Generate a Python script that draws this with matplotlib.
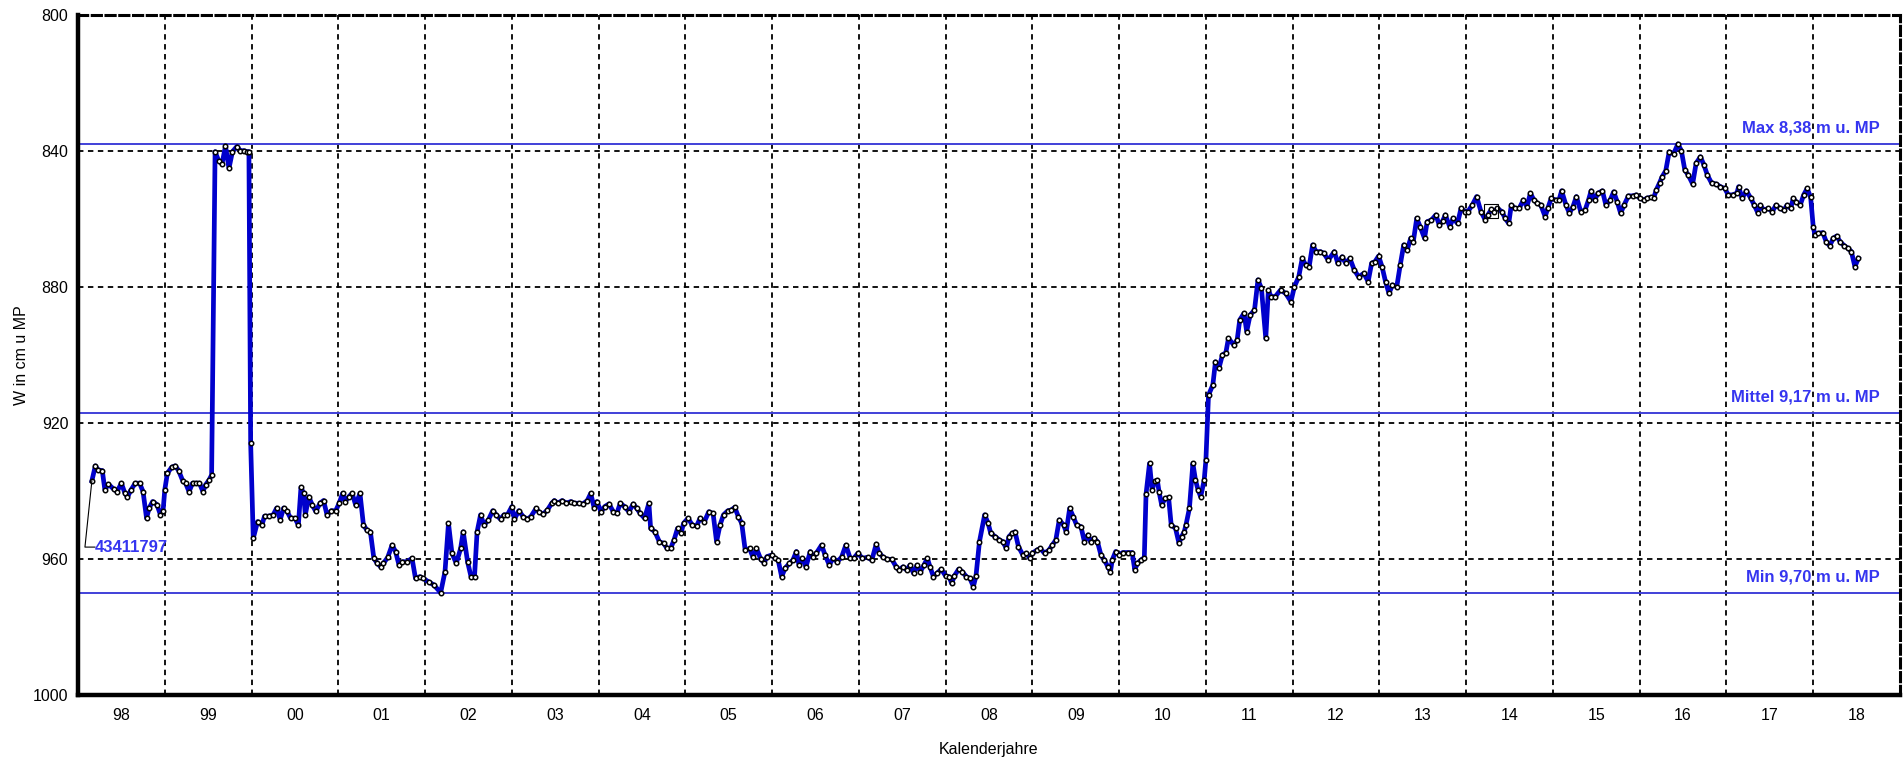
import numpy as np
import matplotlib.pyplot as plt

plt.rcParams['font.family'] = ['Liberation Sans', 'DejaVu Sans']

# Grundwasserstand, Messstelle 43411797 (cm unter Messpunkt)
years = [
    1998.16, 1998.20, 1998.23, 1998.28, 1998.31, 1998.35, 1998.41, 1998.45, 1998.50, 1998.54,
    1998.57, 1998.61, 1998.66, 1998.71, 1998.75, 1998.79, 1998.82, 1998.86, 1998.91, 1998.95,
    1998.98, 1999.00, 1999.03, 1999.08, 1999.12, 1999.16, 1999.21, 1999.24, 1999.28, 1999.32,
    1999.36, 1999.40, 1999.44, 1999.47, 1999.51, 1999.54, 1999.58, 1999.62, 1999.66, 1999.70,
    1999.74, 1999.78, 1999.83, 1999.87, 1999.91, 1999.95, 1999.97, 1999.99, 2000.02, 2000.07,
    2000.12, 2000.15, 2000.20, 2000.25, 2000.29, 2000.33, 2000.37, 2000.41, 2000.45, 2000.50,
    2000.54, 2000.57, 2000.60, 2000.62, 2000.66, 2000.70, 2000.74, 2000.79, 2000.83, 2000.87,
    2000.92, 2000.97, 2001.01, 2001.05, 2001.08, 2001.12, 2001.16, 2001.20, 2001.25, 2001.29,
    2001.33, 2001.37, 2001.41, 2001.45, 2001.49, 2001.52, 2001.57, 2001.62, 2001.66, 2001.70,
    2001.74, 2001.79, 2001.85, 2001.89, 2001.94, 2001.98, 2002.04, 2002.10, 2002.18, 2002.23,
    2002.27, 2002.31, 2002.36, 2002.41, 2002.44, 2002.49, 2002.53, 2002.57, 2002.60, 2002.64,
    2002.68, 2002.73, 2002.78, 2002.82, 2002.87, 2002.91, 2002.95, 2003.00, 2003.03, 2003.08,
    2003.13, 2003.18, 2003.22, 2003.28, 2003.31, 2003.36, 2003.41, 2003.46, 2003.49, 2003.53,
    2003.58, 2003.63, 2003.68, 2003.72, 2003.77, 2003.82, 2003.87, 2003.91, 2003.95, 2003.98,
    2004.03, 2004.07, 2004.12, 2004.17, 2004.21, 2004.25, 2004.30, 2004.35, 2004.40, 2004.44,
    2004.48, 2004.53, 2004.58, 2004.60, 2004.65, 2004.70, 2004.75, 2004.79, 2004.83, 2004.87,
    2004.91, 2004.95, 2004.98, 2005.03, 2005.08, 2005.13, 2005.17, 2005.22, 2005.27, 2005.32,
    2005.36, 2005.40, 2005.44, 2005.49, 2005.53, 2005.57, 2005.61, 2005.65, 2005.69, 2005.74,
    2005.78, 2005.82, 2005.87, 2005.91, 2005.94, 2006.00, 2006.03, 2006.07, 2006.11, 2006.15,
    2006.20, 2006.24, 2006.28, 2006.31, 2006.35, 2006.39, 2006.44, 2006.47, 2006.51, 2006.57,
    2006.61, 2006.66, 2006.70, 2006.75, 2006.80, 2006.85, 2006.90, 2006.94, 2006.99, 2007.04,
    2007.10, 2007.15, 2007.20, 2007.23, 2007.28, 2007.33, 2007.38, 2007.43, 2007.46, 2007.51,
    2007.55, 2007.59, 2007.63, 2007.67, 2007.71, 2007.75, 2007.79, 2007.82, 2007.86, 2007.90,
    2007.95, 2008.00, 2008.04, 2008.07, 2008.10, 2008.15, 2008.19, 2008.24, 2008.28, 2008.32,
    2008.35, 2008.39, 2008.45, 2008.49, 2008.52, 2008.57, 2008.62, 2008.66, 2008.70, 2008.73,
    2008.77, 2008.80, 2008.84, 2008.89, 2008.93, 2008.97, 2009.00, 2009.05, 2009.09, 2009.14,
    2009.19, 2009.23, 2009.27, 2009.31, 2009.36, 2009.39, 2009.43, 2009.47, 2009.51, 2009.56,
    2009.60, 2009.64, 2009.67, 2009.71, 2009.75, 2009.79, 2009.83, 2009.87, 2009.90, 2009.92,
    2009.96, 2010.00, 2010.04, 2010.10, 2010.15, 2010.18, 2010.21, 2010.25, 2010.29, 2010.31,
    2010.35, 2010.38, 2010.41, 2010.44, 2010.46, 2010.49, 2010.53, 2010.57, 2010.60, 2010.65,
    2010.69, 2010.72, 2010.75, 2010.77, 2010.81, 2010.85, 2010.88, 2010.91, 2010.94, 2010.98,
    2011.00, 2011.03, 2011.08, 2011.11, 2011.15, 2011.19, 2011.23, 2011.26, 2011.32, 2011.36,
    2011.39, 2011.44, 2011.47, 2011.51, 2011.56, 2011.60, 2011.64, 2011.69, 2011.72, 2011.75,
    2011.80, 2011.86, 2011.92, 2011.98, 2012.02, 2012.07, 2012.11, 2012.15, 2012.19, 2012.23,
    2012.27, 2012.32, 2012.36, 2012.41, 2012.48, 2012.52, 2012.57, 2012.61, 2012.66, 2012.71,
    2012.76, 2012.82, 2012.87, 2012.91, 2012.95, 2012.99, 2013.03, 2013.07, 2013.11, 2013.15,
    2013.20, 2013.24, 2013.28, 2013.32, 2013.36, 2013.39, 2013.43, 2013.47, 2013.52, 2013.55,
    2013.60, 2013.65, 2013.69, 2013.73, 2013.76, 2013.81, 2013.85, 2013.90, 2013.94, 2013.99,
    2014.02, 2014.07, 2014.12, 2014.17, 2014.22, 2014.25, 2014.29, 2014.32, 2014.36, 2014.41,
    2014.45, 2014.49, 2014.52, 2014.56, 2014.61, 2014.66, 2014.70, 2014.74, 2014.78, 2014.82,
    2014.86, 2014.91, 2014.94, 2014.98, 2015.03, 2015.07, 2015.10, 2015.15, 2015.19, 2015.23,
    2015.27, 2015.32, 2015.37, 2015.41, 2015.44, 2015.48, 2015.52, 2015.57, 2015.61, 2015.66,
    2015.70, 2015.74, 2015.78, 2015.82, 2015.87, 2015.92, 2015.96, 2016.00, 2016.05, 2016.08,
    2016.13, 2016.16, 2016.19, 2016.23, 2016.26, 2016.30, 2016.34, 2016.39, 2016.44, 2016.48,
    2016.52, 2016.56, 2016.61, 2016.65, 2016.70, 2016.74, 2016.78, 2016.83, 2016.88, 2016.93,
    2016.98, 2017.02, 2017.07, 2017.12, 2017.14, 2017.18, 2017.23, 2017.28, 2017.32, 2017.36,
    2017.39, 2017.43, 2017.48, 2017.53, 2017.57, 2017.62, 2017.66, 2017.70, 2017.74, 2017.77,
    2017.80, 2017.85, 2017.89, 2017.93, 2017.97, 2018.00, 2018.02, 2018.06, 2018.11, 2018.15,
    2018.19, 2018.23, 2018.27, 2018.31, 2018.36, 2018.40, 2018.44, 2018.48, 2018.52,
]
levels = [
    937.0, 932.6, 933.8, 934.0, 939.7, 938.0, 939.4, 940.2, 937.7, 940.6,
    941.8, 939.7, 937.7, 937.7, 940.2, 948.0, 945.0, 943.1, 944.0, 947.0,
    946.0, 939.7, 934.8, 933.0, 932.6, 934.0, 937.2, 937.7, 940.2, 937.7,
    937.7, 937.7, 940.2, 938.2, 936.8, 935.3, 840.2, 842.8, 843.8, 838.5,
    845.1, 840.2, 838.7, 839.9, 839.9, 840.2, 840.2, 926.0, 953.9, 949.0,
    950.0, 947.4, 947.4, 947.0, 945.0, 948.5, 945.0, 946.0, 948.0, 948.0,
    950.0, 938.9, 940.7, 947.0, 941.7, 944.1, 946.0, 943.6, 942.8, 947.0,
    945.8, 945.8, 943.6, 940.7, 943.1, 941.7, 940.7, 944.1, 940.7, 950.0,
    951.5, 952.0, 959.8, 961.3, 962.3, 961.3, 959.5, 955.9, 957.8, 961.8,
    960.8, 960.8, 959.8, 965.7, 965.2, 965.7, 966.7, 967.6, 969.9, 963.7,
    949.5, 958.3, 961.3, 956.9, 952.0, 960.8, 965.2, 965.2, 952.0, 947.0,
    950.0, 948.5, 945.8, 947.0, 948.3, 947.0, 947.0, 944.6, 948.3, 945.8,
    947.5, 948.3, 947.5, 945.1, 946.1, 946.8, 945.6, 943.6, 942.8, 943.6,
    942.8, 943.6, 943.1, 943.6, 943.6, 943.8, 942.8, 940.7, 945.1, 943.1,
    946.1, 944.6, 943.8, 946.1, 946.6, 943.6, 944.6, 946.1, 943.8, 945.1,
    946.6, 948.0, 943.6, 951.0, 952.0, 954.9, 955.4, 956.9, 956.9, 954.4,
    951.0, 952.4, 949.5, 948.0, 950.0, 950.3, 948.0, 949.0, 946.1, 946.6,
    954.9, 950.0, 947.0, 945.8, 945.6, 944.8, 947.5, 949.5, 957.4, 956.9,
    959.5, 956.9, 960.1, 961.1, 959.3, 958.8, 959.8, 960.3, 965.2, 962.7,
    961.3, 960.3, 957.8, 961.8, 959.8, 962.3, 957.8, 959.5, 958.3, 955.9,
    958.8, 961.8, 959.8, 960.8, 959.5, 955.9, 959.8, 959.8, 958.3, 959.8,
    959.5, 960.3, 955.6, 958.1, 959.5, 960.1, 960.1, 962.3, 963.2, 962.3,
    963.2, 961.8, 964.2, 961.8, 963.7, 961.8, 959.8, 962.3, 965.2, 964.2,
    963.0, 965.0, 965.2, 967.2, 965.0, 963.0, 963.7, 965.2, 965.7, 968.1,
    965.0, 954.9, 947.0, 949.5, 952.4, 953.4, 954.4, 954.9, 956.9, 953.4,
    952.4, 952.0, 956.4, 958.8, 958.3, 959.8, 958.3, 957.4, 956.9, 958.3,
    957.4, 955.9, 954.4, 948.5, 950.0, 952.0, 945.1, 947.5, 950.0, 950.5,
    954.9, 952.9, 954.9, 953.9, 954.9, 958.8, 960.3, 962.3, 963.7, 960.3,
    957.8, 958.8, 958.1, 958.1, 958.1, 963.2, 961.3, 960.3, 959.6, 940.9,
    931.9, 939.7, 937.2, 936.8, 940.2, 944.1, 942.2, 941.9, 950.0, 951.0,
    955.4, 953.4, 952.0, 950.0, 945.1, 931.9, 936.8, 939.7, 941.7, 936.8,
    930.9, 911.8, 908.8, 902.0, 903.9, 900.0, 899.3, 895.1, 897.0, 895.6,
    889.7, 887.7, 893.1, 888.2, 886.8, 877.9, 880.4, 895.1, 880.9, 882.8,
    882.8, 880.9, 881.9, 884.3, 879.9, 877.0, 871.6, 873.5, 874.0, 867.6,
    869.6, 869.6, 870.1, 872.1, 869.6, 873.0, 871.1, 873.0, 871.6, 875.0,
    877.0, 876.0, 878.4, 873.0, 872.5, 870.9, 874.0, 878.4, 881.9, 879.4,
    879.9, 873.5, 867.6, 869.1, 865.7, 866.7, 859.8, 862.3, 865.7, 860.8,
    860.3, 858.8, 861.8, 860.5, 858.8, 862.3, 859.8, 861.3, 856.9, 857.8,
    857.8, 855.9, 853.4, 857.8, 860.3, 858.8, 857.2, 857.8, 856.9, 857.8,
    859.8, 861.3, 855.9, 856.9, 856.9, 854.4, 856.4, 852.4, 854.4, 855.4,
    855.9, 859.3, 856.9, 853.9, 854.4, 854.4, 851.7, 855.9, 858.3, 856.4,
    853.4, 857.8, 857.4, 854.4, 851.7, 854.4, 852.4, 851.7, 855.9, 854.4,
    852.0, 854.9, 858.3, 855.9, 853.2, 853.2, 852.9, 853.9, 854.4, 853.9,
    853.6, 853.9, 851.5, 849.3, 847.5, 845.8, 840.2, 840.9, 837.9, 839.9,
    845.6, 847.1, 849.7, 843.6, 841.7, 844.1, 847.1, 849.5, 849.7, 850.5,
    851.0, 852.9, 852.9, 852.4, 850.5, 853.9, 851.7, 853.9, 855.9, 858.1,
    855.9, 857.4, 856.9, 857.8, 855.9, 856.9, 857.4, 855.9, 856.9, 853.9,
    854.9, 855.9, 852.9, 851.0, 853.6, 862.3, 864.7, 864.2, 864.0, 866.7,
    867.9, 865.7, 865.0, 866.7, 867.9, 868.6, 869.6, 874.0, 871.6,
]

# Kennwerte in cm u. MP
max_level = 838
mean_level = 917
min_level = 970
stat_lines = [max_level, mean_level, min_level]
stat_labels = ['Max 8,38 m u. MP', 'Mittel 9,17 m u. MP', 'Min 9,70 m u. MP']

station_id = '43411797'
id_label_pos = (1998.195, 956.5)
id_elbow_x = 1998.08
marked_point = (2014.29, 857.5)

year_labels = ['98', '99', '00', '01', '02', '03', '04', '05', '06', '07',
               '08', '09', '10', '11', '12', '13', '14', '15', '16', '17', '18']

fig = plt.figure(figsize=(19.03, 7.59), dpi=100)
ax = fig.add_axes([78 / 1903, 64 / 759, 1822 / 1903, 680 / 759])

first_year = 1998
ax.set_xlim(first_year, first_year + len(year_labels))
ax.set_ylim(1000, 800)

# Jahresgrenzen als Gitter, Beschriftung in Jahresmitte
boundaries = np.arange(first_year + 1, first_year + len(year_labels))
for b in boundaries:
    ax.axvline(b, color='black', lw=1.3, ls=(0, (3, 2.5)), zorder=1)
for lv in [840, 880, 920, 960]:
    ax.axhline(lv, color='black', lw=1.3, ls=(0, (3, 2.5)), zorder=1)

ax.set_xticks(np.arange(len(year_labels)) + first_year + 0.5)
ax.set_xticklabels(year_labels)
ax.set_yticks([800, 840, 880, 920, 960, 1000])
ax.tick_params(length=0, labelsize=11.5)
ax.tick_params(axis='y', pad=7)
ax.tick_params(axis='x', pad=9)

# Max / Mittel / Min
for lv, txt in zip(stat_lines, stat_labels):
    ax.axhline(lv, color='#4040d8', lw=1.4, zorder=2)
    ax.annotate(txt, xy=(0.989, lv), xycoords=('axes fraction', 'data'),
                xytext=(0, 6), textcoords='offset points',
                ha='right', va='bottom', color='#3535f0',
                fontsize=12, fontweight='bold', zorder=5)

ax.plot(years, levels, color='#0000cc', lw=3.4, zorder=3, solid_joinstyle='round')
ax.plot(years, levels, ls='none', marker='o', ms=3.2, mfc='white', mec='black',
        mew=1.1, zorder=4)
ax.plot([marked_point[0]], [marked_point[1]], marker='s', ms=9.5, mfc='none',
        mec='black', mew=0.8, zorder=4)

# Messstellennummer mit Hinweislinie zum ersten Wert
ax.plot([years[0], id_elbow_x, id_label_pos[0]],
        [levels[0], id_label_pos[1], id_label_pos[1]], color='black', lw=0.8, zorder=4)
ax.text(id_label_pos[0], id_label_pos[1], station_id, color='#3535f0',
        fontsize=12, fontweight='bold', va='center', ha='left', zorder=5)

for side in ['left', 'bottom']:
    ax.spines[side].set_linewidth(3.2)
for side in ['top', 'right']:
    ax.spines[side].set_linewidth(2.2)
    ax.spines[side].set_linestyle((0, (3, 1.5)))

ax.set_xlabel('Kalenderjahre', fontsize=11.5, labelpad=14)
ax.set_ylabel('W in cm u MP', fontsize=11.5, labelpad=3)

plt.savefig('out.png', dpi=100)
